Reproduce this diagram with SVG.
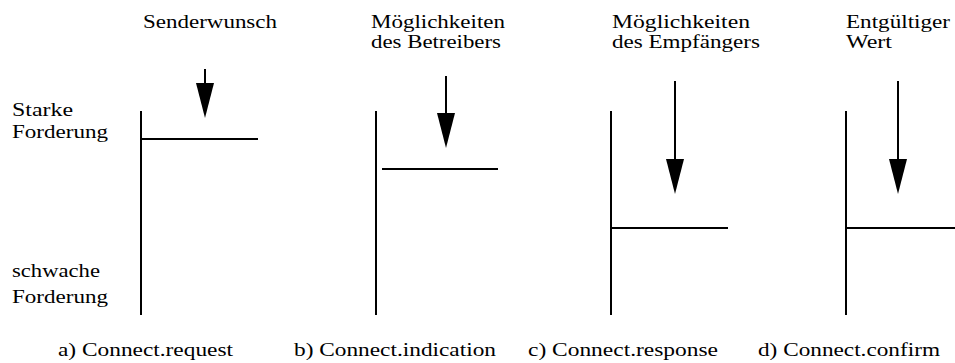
<svg xmlns="http://www.w3.org/2000/svg" width="955" height="363" viewBox="0 0 955 363">
<style>
text { font-family: "Times New Roman", Times, "Liberation Serif", "Noto Serif", "DejaVu Serif", serif; font-size: 19px; fill: #000; }
.ln { stroke: #000; stroke-width: 2; fill: none; }
.ar { stroke: #000; stroke-width: 2; fill: none; marker-end: url(#head); }
</style>
<defs>
<marker id="head" markerUnits="userSpaceOnUse" markerWidth="36" markerHeight="18" refX="0" refY="9" orient="auto" viewBox="0 0 36 18">
<path d="M0,0 L35,9 L0,18 Z" fill="#000"/>
</marker>
</defs>
<rect width="955" height="363" fill="#fff"/>
<g id="axis-labels">
<text x="12" y="116" textLength="61" lengthAdjust="spacingAndGlyphs">Starke</text>
<text x="12" y="138" textLength="96" lengthAdjust="spacingAndGlyphs">Forderung</text>
<text x="12" y="277" textLength="88" lengthAdjust="spacingAndGlyphs">schwache</text>
<text x="12" y="303" textLength="96" lengthAdjust="spacingAndGlyphs">Forderung</text>
</g>
<g id="panel-a">
<text x="143" y="28" textLength="134" lengthAdjust="spacingAndGlyphs">Senderwunsch</text>
<line class="ln" x1="141" y1="111" x2="141" y2="315"/>
<line class="ln" x1="141" y1="139" x2="258" y2="139"/>
<text x="58" y="356" textLength="175" lengthAdjust="spacingAndGlyphs">a) Connect.request</text>
</g>
<g id="panel-b">
<text x="371" y="28" textLength="134" lengthAdjust="spacingAndGlyphs">Möglichkeiten</text>
<text x="371" y="48" textLength="130" lengthAdjust="spacingAndGlyphs">des Betreibers</text>
<line class="ln" x1="376" y1="111" x2="376" y2="315"/>
<line class="ln" x1="382" y1="169" x2="498" y2="169"/>
<text x="294" y="356" textLength="202" lengthAdjust="spacingAndGlyphs">b) Connect.indication</text>
</g>
<g id="panel-c">
<text x="612" y="28" textLength="138" lengthAdjust="spacingAndGlyphs">Möglichkeiten</text>
<text x="612" y="48" textLength="148" lengthAdjust="spacingAndGlyphs">des Empfängers</text>
<line class="ln" x1="611" y1="111" x2="611" y2="315"/>
<line class="ln" x1="611" y1="228" x2="728" y2="228"/>
<text x="528" y="356" textLength="190" lengthAdjust="spacingAndGlyphs">c) Connect.response</text>
</g>
<g id="panel-d">
<text x="846" y="28" textLength="104" lengthAdjust="spacingAndGlyphs">Entgültiger</text>
<text x="846" y="48" textLength="46" lengthAdjust="spacingAndGlyphs">Wert</text>
<line class="ln" x1="846" y1="111" x2="846" y2="315"/>
<line class="ln" x1="846" y1="228" x2="956" y2="228"/>
<text x="758" y="356" textLength="182" lengthAdjust="spacingAndGlyphs">d) Connect.confirm</text>
</g>
<g id="connectors">
<line class="ar" x1="205" y1="69" x2="205" y2="83"/>
<line class="ar" x1="446" y1="76" x2="446" y2="113"/>
<line class="ar" x1="675" y1="81" x2="675" y2="159"/>
<line class="ar" x1="898" y1="81" x2="898" y2="159"/>
</g>
</svg>
